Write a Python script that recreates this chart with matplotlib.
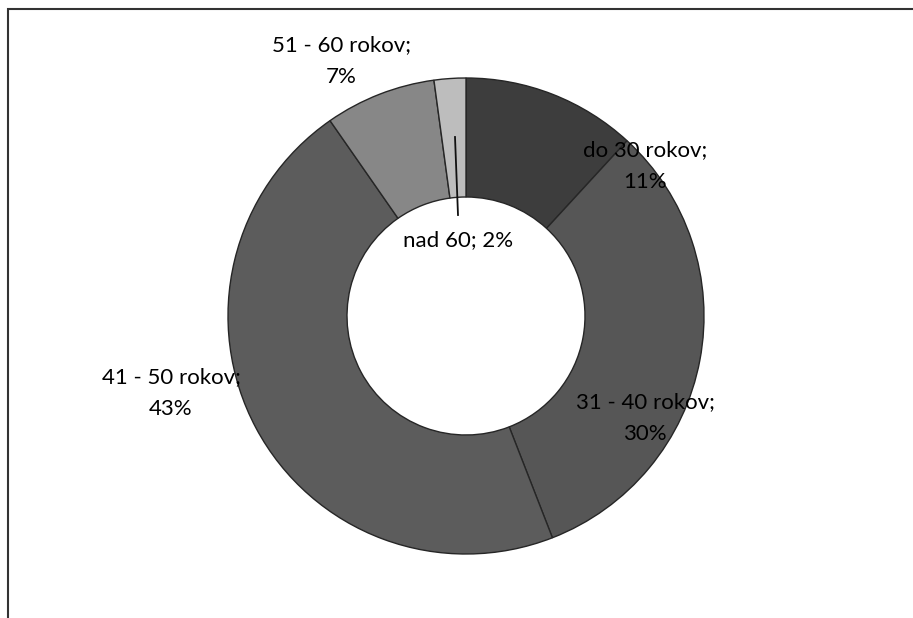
import matplotlib.pyplot as plt
from matplotlib.patches import Rectangle
from matplotlib.lines import Line2D

# --- DATA ---
categories = ["do 30 rokov", "31 - 40 rokov", "41 - 50 rokov", "51 - 60 rokov", "nad 60"]
percent = [11, 30, 43, 7, 2]
label_texts = ["do 30 rokov;\n11%", "31 - 40 rokov;\n30%", "41 - 50 rokov;\n43%",
               "51 - 60 rokov;\n7%", "nad 60; 2%"]
colors = ["#3d3d3d", "#565656", "#5c5c5c", "#878787", "#bdbdbd"]

# label centres in pixel units (y measured from top)
label_pos = [(645, 166), (645, 418), (171, 393), (341, 61), (458, 240)]

W, H, DPI = 913, 618, 100
CX, CY, R = 466, 316, 238

fig = plt.figure(figsize=(W / DPI, H / DPI), dpi=DPI)
fig.patch.set_facecolor("white")
ax = fig.add_axes([0, 0, 1, 1])

wedges, _ = ax.pie(percent, colors=colors, startangle=90, counterclock=False,
                   center=(CX, H - CY), radius=R, frame=True,
                   wedgeprops=dict(width=R * 0.5, edgecolor="#262626", linewidth=1.0))
ax.set_xlim(0, W)
ax.set_ylim(0, H)
ax.set_aspect("equal")
ax.axis("off")

for txt, (x, y) in zip(label_texts, label_pos):
    ax.text(x, H - y, txt, ha="center", va="center", fontsize=16,
            family="Lato", color="#000000", linespacing=1.7)

# leader line for the smallest slice
ax.add_line(Line2D([455, 458], [H - 137, H - 215], color="#111111", linewidth=1.3))

# chart frame (only top and left edges fall inside the image)
fig.add_artist(Rectangle((8 / W, -0.1), 1.2, (H - 9) / H + 0.1, transform=fig.transFigure,
                         fill=False, edgecolor="#333333", linewidth=1.5))

plt.savefig("out.png", dpi=DPI)
